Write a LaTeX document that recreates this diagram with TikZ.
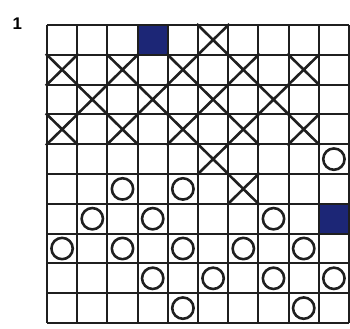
\documentclass[tikz,border=0pt]{standalone}
\usepackage{fontspec}
\usepackage{xcolor}
\usepackage{tikz}
\usetikzlibrary{shapes.misc}

\newfontfamily\tagfont{Liberation Sans}
\definecolor{inkblue}{RGB}{28,38,118}

\begin{document}
\begin{tikzpicture}[
  x = 0.906cm, y = -0.894cm,
  gridline/.style = {line width=1.8pt, black!88},
  cross/.style    = {cross out, draw=black!88, line width=2.2pt, inner sep=0pt,
                     minimum width=0.9cm, minimum height=0.88cm},
  ring/.style     = {circle, draw=black!88, line width=2.2pt, inner sep=0pt,
                     minimum size=0.64cm},
  blot/.style     = {fill=inkblue},
  tag/.style      = {font=\tagfont\bfseries\Large, inner sep=0pt}
]
\useasboundingbox (-1.556,-0.839) rectangle (10.033,10.168);

% ── Filled cells ─────────────────────────────────────────────────────────────
\foreach \c/\r in {3/0, 9/6}
  \fill[blot] (\c,\r) rectangle ++(1,1);

% ── Grid ─────────────────────────────────────────────────────────────────────
\foreach \i in {0,...,10} {
  \draw[gridline] (\i,0) -- (\i,10);
  \draw[gridline] (0,\i) -- (10,\i);
}

% ── Crosses ──────────────────────────────────────────────────────────────────
\foreach \c/\r in {5/0, 0/1, 2/1, 4/1, 6/1, 8/1, 1/2, 3/2, 5/2, 7/2,
                   0/3, 2/3, 4/3, 6/3, 8/3, 5/4, 6/5}
  \node[cross] (x\r\c) at (\c+0.5,\r+0.5) {};

% ── Rings ────────────────────────────────────────────────────────────────────
\foreach \c/\r in {9/4, 2/5, 4/5, 1/6, 3/6, 7/6, 0/7, 2/7, 4/7, 6/7, 8/7,
                   3/8, 5/8, 7/8, 9/8, 4/9, 8/9}
  \node[ring] (o\r\c) at (\c+0.5,\r+0.5) {};

% ── Number ───────────────────────────────────────────────────────────────────
\node[tag] (num) at (-0.98,-0.05) {1};
\end{tikzpicture}
\end{document}
